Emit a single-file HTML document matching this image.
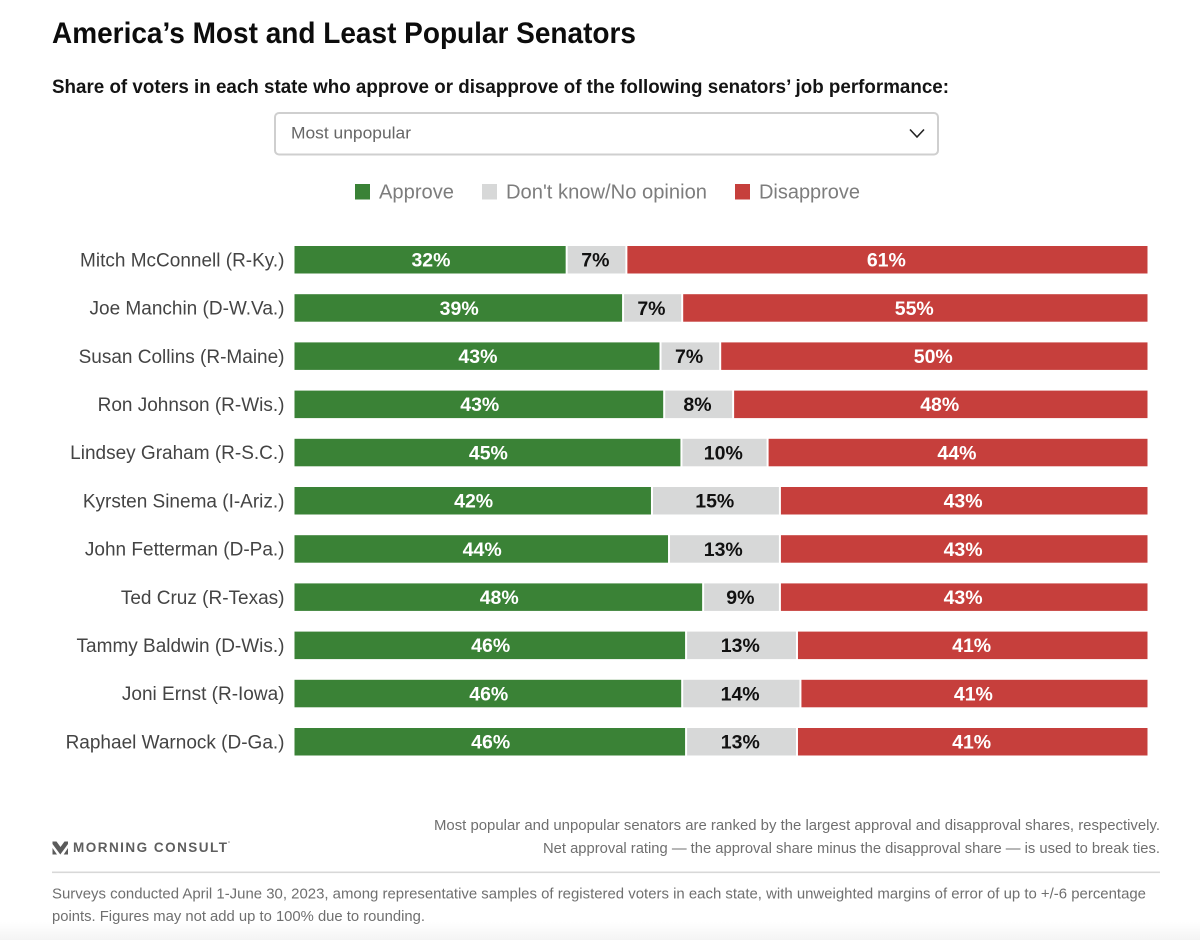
<!DOCTYPE html>
<html lang="en">
<head>
<meta charset="utf-8">
<title>America's Most and Least Popular Senators</title>
<style>
html,body{margin:0;padding:0;background:#fff;width:1200px;height:940px;overflow:hidden}
svg{display:block;font-family:"Liberation Sans",Arial,sans-serif}
</style>
</head>
<body>
<svg id="chart" xmlns="http://www.w3.org/2000/svg" width="1200" height="940" viewBox="0 0 1200 940">
  <defs>
    <linearGradient id="fade" x1="0" y1="0" x2="0" y2="1">
      <stop offset="0" stop-color="#ffffff"/>
      <stop offset="1" stop-color="#f4f4f4"/>
    </linearGradient>
  </defs>
  <rect width="1200" height="940" fill="#fff"/>
  <rect y="922" width="1200" height="18" fill="url(#fade)"/>

  <text x="52" y="43" font-size="30" font-weight="700" fill="#0c0c0c" textLength="584" lengthAdjust="spacingAndGlyphs">America’s Most and Least Popular Senators</text>
  <text x="52" y="93" font-size="19.5" font-weight="700" fill="#141414" textLength="897" lengthAdjust="spacingAndGlyphs">Share of voters in each state who approve or disapprove of the following senators’ job performance:</text>

  <g>
    <rect x="275" y="113" width="663" height="41.5" rx="4" fill="#fff" stroke="#cfcfcf" stroke-width="2"/>
    <text x="291" y="138.5" font-size="16.5" fill="#666" textLength="120" lengthAdjust="spacingAndGlyphs">Most unpopular</text>
    <path d="M910 129.5 L917 137 L924 129.5" fill="none" stroke="#222" stroke-width="1.6"/>
  </g>

  <g>
    <g>
      <rect x="355" y="184" width="15" height="15.5" fill="#3a8236"/>
      <text x="379" y="198.5" font-size="20" fill="#7d7d7d" textLength="75" lengthAdjust="spacingAndGlyphs">Approve</text>
    </g>
    <g>
      <rect x="482" y="184" width="15" height="15.5" fill="#d7d8d8"/>
      <text x="506" y="198.5" font-size="20" fill="#7d7d7d" textLength="201" lengthAdjust="spacingAndGlyphs">Don't know/No opinion</text>
    </g>
    <g>
      <rect x="735" y="184" width="15" height="15.5" fill="#c63f3c"/>
      <text x="759" y="198.5" font-size="20" fill="#7d7d7d" textLength="101" lengthAdjust="spacingAndGlyphs">Disapprove</text>
    </g>
  </g>

  <g id="rows"></g>

  <g>
    <path d="M52.5 841.5 L56.5 841.5 L60.5 847 L64.5 841.5 L68 841.5 L68 844 L60.3 854.5 L52.5 844 Z M52.5 848 L57 854.5 L52.5 854.5 Z M68 848 L68 854.5 L63.7 854.5 Z" fill="#5b5b5b"/>
    <text x="73" y="852" font-size="13.5" font-weight="700" fill="#5e5e5e" textLength="154" lengthAdjust="spacing">MORNING CONSULT</text>
    <circle cx="229" cy="842" r="0.8" fill="#888"/>
  </g>

  <text x="434" y="830" font-size="15" fill="#6f6f6f" textLength="726" lengthAdjust="spacingAndGlyphs">Most popular and unpopular senators are ranked by the largest approval and disapproval shares, respectively.</text>
  <text x="543" y="853" font-size="15" fill="#6f6f6f" textLength="617" lengthAdjust="spacingAndGlyphs">Net approval rating — the approval share minus the disapproval share — is used to break ties.</text>

  <rect x="52" y="871.5" width="1108" height="1.6" fill="#d8d8d8"/>

  <text x="52" y="898.5" font-size="15" fill="#6f6f6f" textLength="1094" lengthAdjust="spacingAndGlyphs">Surveys conducted April 1-June 30, 2023, among representative samples of registered voters in each state, with unweighted margins of error of up to +/-6 percentage</text>
  <text x="52" y="921" font-size="15" fill="#6f6f6f" textLength="373" lengthAdjust="spacingAndGlyphs">points. Figures may not add up to 100% due to rounding.</text>
</svg>

<script>
const senators = ["Mitch McConnell (R-Ky.)","Joe Manchin (D-W.Va.)","Susan Collins (R-Maine)","Ron Johnson (R-Wis.)","Lindsey Graham (R-S.C.)","Kyrsten Sinema (I-Ariz.)","John Fetterman (D-Pa.)","Ted Cruz (R-Texas)","Tammy Baldwin (D-Wis.)","Joni Ernst (R-Iowa)","Raphael Warnock (D-Ga.)"];
const approve = [32,39,43,43,45,42,44,48,46,46,46];
const unsure = [7,7,7,8,10,15,13,9,13,14,13];
const disapprove = [61,55,50,48,44,43,43,43,41,41,41];

const NS = "http://www.w3.org/2000/svg";
const PLOT_LEFT = 294.5, PLOT_RIGHT = 1147.5;
const ROW_TOP = 246, ROW_STEP = 48.2, BAR_H = 27.5;
const BOUNDARY_SHIFT = -0.8;
const GAP = 2;

function xScale(share, total){ return PLOT_LEFT + (share / total) * (PLOT_RIGHT - PLOT_LEFT); }
function yBand(i){ return ROW_TOP + i * ROW_STEP; }
function slug(s){ return s.toLowerCase().replace(/[^a-z]+/g, "-").replace(/^-|-$/g, ""); }

const rows = document.getElementById("rows");
const seriesFill = ["#3a8236", "#d7d8d8", "#c63f3c"];
const labelFill = ["#ffffff", "#111111", "#ffffff"];
const seriesName = ["approve", "dont-know", "disapprove"];
const labelNudge = [0, -2, -1];

senators.forEach(function (name, i) {
  const vals = [approve[i], unsure[i], disapprove[i]];
  const total = vals[0] + vals[1] + vals[2];
  const y = yBand(i);
  const g = document.createElementNS(NS, "g");
  
  

  const lab = document.createElementNS(NS, "text");
  
  
  lab.setAttribute("x", 284.5);
  lab.setAttribute("y", y + BAR_H / 2 + 6.6);
  lab.setAttribute("text-anchor", "end");
  lab.setAttribute("font-size", "19");
  lab.setAttribute("fill", "#444");
  lab.textContent = name;
  g.appendChild(lab);

  let cum = 0;
  vals.forEach(function (v, s) {
    const x0 = xScale(cum, total);
    const x1 = xScale(cum + v, total);
    cum += v;
    const left = s === 0 ? x0 : x0 + GAP / 2 + BOUNDARY_SHIFT;
    const right = s === 2 ? x1 : x1 - GAP / 2 + BOUNDARY_SHIFT;
    const r = document.createElementNS(NS, "rect");
    
    
    r.setAttribute("x", left);
    r.setAttribute("y", y);
    r.setAttribute("width", right - left);
    r.setAttribute("height", BAR_H);
    r.setAttribute("fill", seriesFill[s]);
    g.appendChild(r);

    const t = document.createElementNS(NS, "text");
    
    
    t.setAttribute("x", (x0 + x1) / 2 + labelNudge[s]);
    t.setAttribute("y", y + BAR_H / 2 + 6.8);
    t.setAttribute("text-anchor", "middle");
    t.setAttribute("font-size", "19.5");
    t.setAttribute("font-weight", "700");
    t.setAttribute("fill", labelFill[s]);
    t.textContent = v + "%";
    g.appendChild(t);
  });
  rows.appendChild(g);
});
</script>
</body>
</html>
